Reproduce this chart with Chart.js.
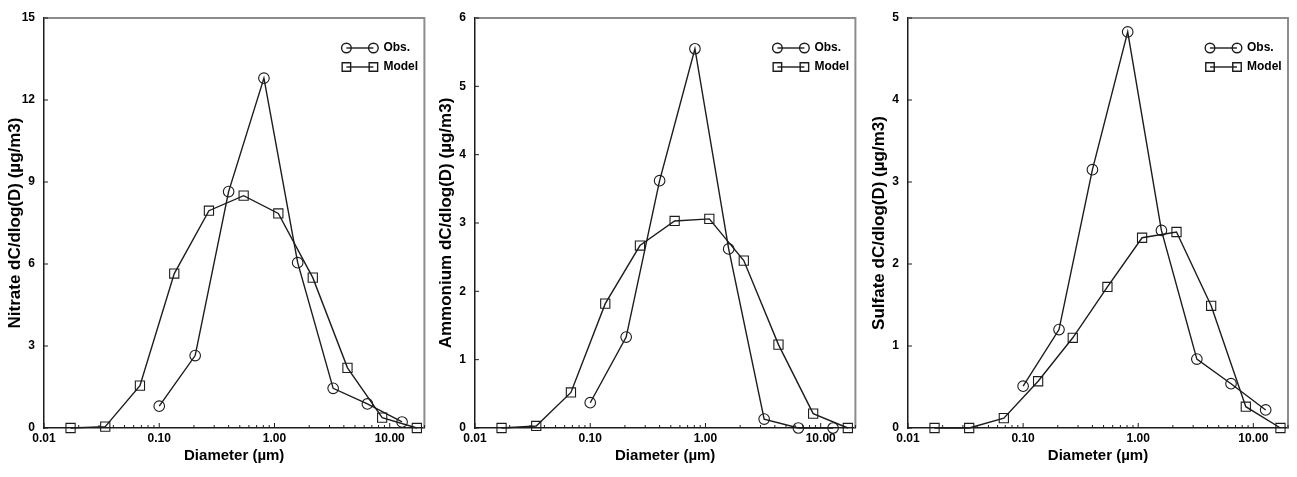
<!DOCTYPE html>
<html>
<head>
<meta charset="utf-8">
<script src="https://cdn.jsdelivr.net/npm/chart.js@4.4.1/dist/chart.umd.min.js"></script>
<style>
  html, body { margin: 0; padding: 0; background: #fff; }
  #wrap { position: relative; width: 1297px; height: 477px; overflow: hidden; }
  #wrap canvas { position: absolute; top: 0; }
</style>
</head>
<body>
<div id="wrap">
  <canvas id="nitrate"></canvas>
  <canvas id="ammonium"></canvas>
  <canvas id="sulfate"></canvas>
</div>
<script>
// size bins (um): impactor stages for obs, model sections
const obsDiameter = [0.10, 0.205, 0.40, 0.81, 1.59, 3.23, 6.4, 12.8];
const modelDiameter = [0.017, 0.034, 0.068, 0.135, 0.27, 0.54, 1.08, 2.15, 4.3, 8.6, 17.2];

// dC/dlog(D) in ug/m3
const nitrateObs = [0.8, 2.65, 8.65, 12.8, 6.05, 1.45, 0.88, 0.22];
const nitrateModel = [0, 0.05, 1.55, 5.65, 7.95, 8.5, 7.85, 5.5, 2.2, 0.38, 0];
const ammoniumObs = [0.37, 1.33, 3.62, 5.55, 2.62, 0.13, 0, 0];
const ammoniumModel = [0, 0.03, 0.52, 1.82, 2.67, 3.03, 3.06, 2.45, 1.22, 0.21, 0];
const sulfateObs = [0.51, 1.2, 3.15, 4.83, 2.41, 0.84, 0.54, 0.22];
const sulfateModel = [0, 0, 0.12, 0.57, 1.1, 1.72, 2.32, 2.39, 1.49, 0.26, 0];

const xDecades = [0.01, 0.1, 1, 10];
const xTickLabels = ['0.01', '0.10', '1.00', '10.00'];
const nitrateTicks = [0, 3, 6, 9, 12, 15];
const ammoniumTicks = [0, 1, 2, 3, 4, 5, 6];
const sulfateTicks = [0, 1, 2, 3, 4, 5];
const seriesNames = ['Obs.', 'Model'];

const INK = '#1c1c1c';
const FONT = 'Liberation Sans, Arial, sans-serif';
const tickFont = { family: FONT, size: 12, weight: 'bold' };
const xTitleFont = { family: FONT, size: 15, weight: 'bold' };
const yTitleFont = { family: FONT, size: 17, weight: 'bold' };
const markers = [
  { pointStyle: 'circle', radius: 5.3 },
  { pointStyle: 'rect', radius: 6.5 }
];

// 1..9 x each decade, labelled only on the decades
const xTickValues = [];
xDecades.forEach(d => {
  for (let m = 1; m <= 9; m++) {
    if (m * d <= 20.0001) xTickValues.push(m * d);
  }
});

const panels = [
  { id: 'nitrate', title: 'Nitrate dC/dlog(D) (\u00b5g/m3)', obs: nitrateObs, model: nitrateModel,
    yTicks: nitrateTicks, left: 0, width: 432, padRight: 4 },
  { id: 'ammonium', title: 'Ammonium dC/dlog(D) (\u00b5g/m3)', obs: ammoniumObs, model: ammoniumModel,
    yTicks: ammoniumTicks, left: 431, width: 432, padRight: 5 },
  { id: 'sulfate', title: 'Sulfate dC/dlog(D) (\u00b5g/m3)', obs: sulfateObs, model: sulfateModel,
    yTicks: sulfateTicks, left: 864, width: 433, padRight: 9 }
];

// gray top/right frame, inward tick marks and the key in the upper right corner
const frameAndKey = {
  id: 'frameAndKey',
  afterDatasetsDraw(chart) {
    const { ctx, chartArea: a, scales } = chart;
    ctx.save();
    ctx.strokeStyle = '#8c8c8c';
    ctx.lineWidth = 2;
    ctx.beginPath();
    ctx.moveTo(a.left, a.top);
    ctx.lineTo(a.right, a.top);
    ctx.lineTo(a.right, a.bottom);
    ctx.stroke();

    ctx.strokeStyle = INK;
    ctx.lineWidth = 1;
    ctx.beginPath();
    scales.x.ticks.forEach(t => {
      const px = scales.x.getPixelForValue(t.value);
      const major = xDecades.some(d => Math.abs(t.value - d) < d * 1e-6);
      ctx.moveTo(px, a.bottom);
      ctx.lineTo(px, a.bottom - (major ? 5 : 3));
    });
    scales.y.ticks.forEach(t => {
      const py = scales.y.getPixelForValue(t.value);
      ctx.moveTo(a.left, py);
      ctx.lineTo(a.left + 4, py);
    });
    ctx.stroke();

    seriesNames.forEach((name, i) => {
      const y = a.top + 30 + i * 19;
      const x0 = a.right - 78, x1 = a.right - 51;
      ctx.strokeStyle = INK;
      ctx.lineWidth = 1.4;
      ctx.beginPath();
      ctx.moveTo(x0, y);
      ctx.lineTo(x1, y);
      ctx.stroke();
      ctx.fillStyle = 'rgba(0,0,0,0)';
      [x0, x1].forEach(x => Chart.helpers.drawPoint(ctx,
        { pointStyle: markers[i].pointStyle, radius: markers[i].radius - 0.5, borderWidth: 1.1, rotation: 0 }, x, y));
      ctx.fillStyle = '#000';
      ctx.font = 'bold 12px ' + FONT;
      ctx.textBaseline = 'middle';
      ctx.textAlign = 'left';
      ctx.fillText(name, a.right - 41, y);
    });
    ctx.restore();
  }
};

panels.forEach(p => {
  const canvas = document.getElementById(p.id);
  canvas.width = p.width;
  canvas.height = 477;
  canvas.style.left = p.left + 'px';

  const series = [
    { diam: obsDiameter, vals: p.obs },
    { diam: modelDiameter, vals: p.model }
  ];

  new Chart(canvas.getContext('2d'), {
    type: 'line',
    data: {
      datasets: series.map((s, i) => ({
        label: seriesNames[i],
        data: s.diam.map((d, k) => ({ x: d, y: s.vals[k] })),
        borderColor: INK,
        borderWidth: 1.4,
        pointStyle: markers[i].pointStyle,
        pointRadius: markers[i].radius,
        pointBorderWidth: 1.1,
        pointBorderColor: INK,
        pointBackgroundColor: 'rgba(0,0,0,0)',
        tension: 0,
        clip: false
      }))
    },
    options: {
      responsive: false,
      animation: false,
      events: [],
      layout: { padding: { left: 3, right: p.padRight, top: 18, bottom: 12 } },
      plugins: { legend: { display: false }, tooltip: { enabled: false } },
      scales: {
        x: {
          type: 'logarithmic',
          min: 0.01,
          max: 20,
          afterBuildTicks: s => { s.ticks = xTickValues.map(v => ({ value: v })); },
          afterFit: s => { s.height = 37; },
          grid: { drawOnChartArea: false, drawTicks: false },
          border: { color: INK, width: 1.5 },
          ticks: {
            autoSkip: false,
            maxRotation: 0,
            padding: 3,
            color: '#000',
            font: tickFont,
            callback: v => {
              const k = xDecades.findIndex(d => Math.abs(v - d) < d * 1e-6);
              return k >= 0 ? xTickLabels[k] : '';
            }
          },
          title: { display: true, text: 'Diameter (\u00b5m)', color: '#000', font: xTitleFont,
                   padding: { top: 2, bottom: 0 } }
        },
        y: {
          min: 0,
          max: p.yTicks[p.yTicks.length - 1],
          afterBuildTicks: s => { s.ticks = p.yTicks.map(v => ({ value: v })); },
          afterFit: s => { s.width = 41; },
          grid: { drawOnChartArea: false, drawTicks: false },
          border: { color: INK, width: 1.5 },
          ticks: { padding: 9, color: '#000', font: tickFont },
          title: { display: true, text: p.title, color: '#000', font: yTitleFont,
                   padding: { top: 2, bottom: 0 } }
        }
      }
    },
    plugins: [frameAndKey]
  });
});
</script>
</body>
</html>
